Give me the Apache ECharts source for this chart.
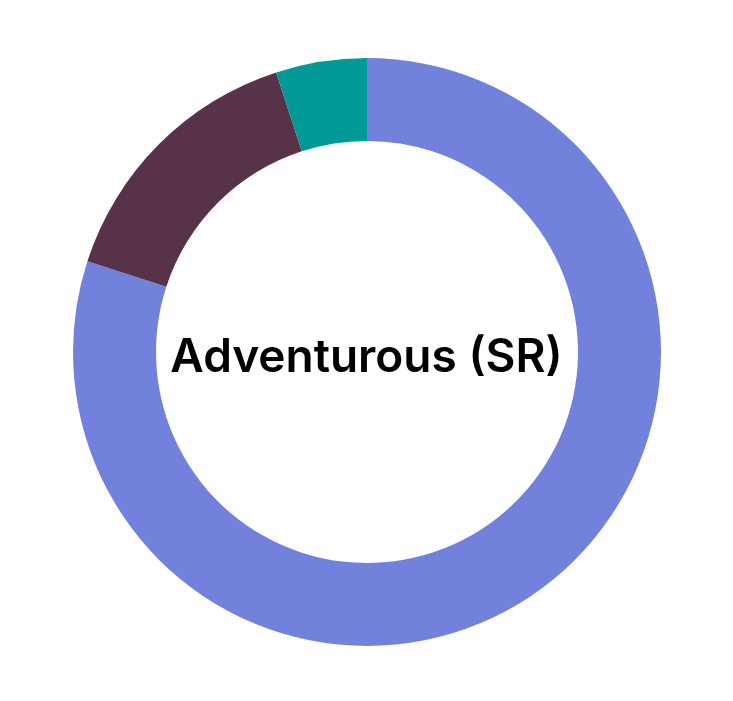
<!DOCTYPE html>
<html><head><meta charset="utf-8">
<script src="https://cdn.jsdelivr.net/npm/echarts@6/dist/echarts.min.js"></script>
<style>html,body{margin:0;padding:0;background:#fff}#c{width:733px;height:701px}</style>
</head><body><div id="c"></div>
<script>
const categories = ["Equity", "Fixed income", "Cash"];
const values = [80, 15, 5];
const colors = ["#7282DC", "#573249", "#009A96"];
const centerLabel = "Adventurous (SR)";

const chart = echarts.init(document.getElementById('c'), null, {renderer: 'canvas'});
chart.setOption({
  animation: false,
  graphic: [{
    type: 'text',
    left: 'center',
    top: 335,
    style: {
      text: centerLabel,
      fontFamily: 'Inter',
      fontWeight: 600,
      fontSize: 46,
      fill: '#000'
    }
  }],
  series: [{
    type: 'pie',
    center: [367, 352],
    radius: [211, 294],
    startAngle: 90,
    clockwise: true,
    label: {show: false},
    labelLine: {show: false},
    itemStyle: {borderWidth: 0},
    emphasis: {disabled: true},
    data: categories.map((n, i) => ({name: n, value: values[i], itemStyle: {color: colors[i]}}))
  }]
});
</script></body></html>
